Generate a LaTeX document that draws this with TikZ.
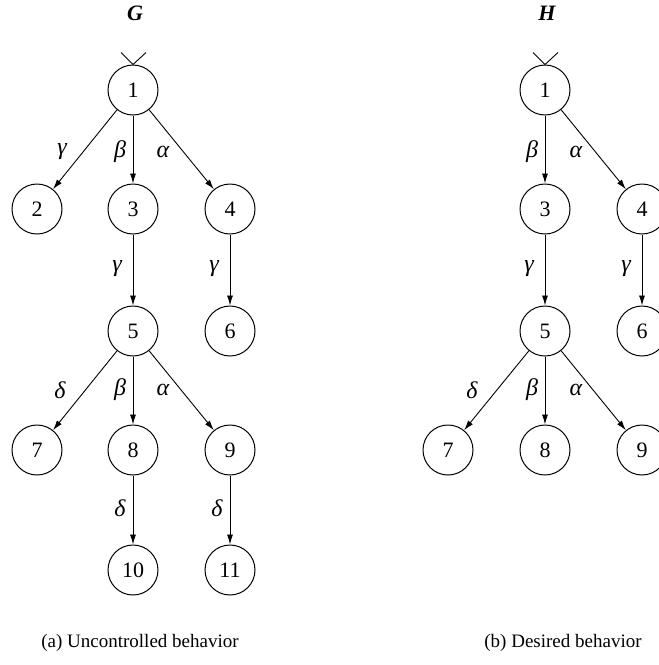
\documentclass[tikz,border=0pt]{standalone}
\usepackage{fontspec}
\setmainfont{Liberation Serif}
\usetikzlibrary{arrows.meta,calc}
\begin{document}
\begin{tikzpicture}[x=1pt,y=-1pt,
  state/.style={circle,draw,line width=1pt,minimum size=50pt,inner sep=0pt,font=\fontsize{22}{24}\selectfont},
  edge/.style={line width=0.9pt,-{Latex[length=10pt,width=6pt]}},
  lab/.style={font=\fontsize{24}{26}\selectfont\itshape,inner sep=0pt},
  ttl/.style={font=\fontsize{22}{24}\selectfont\bfseries\itshape},
  captiontext/.style={font=\fontsize{19}{22}\selectfont},
  entry/.style={line width=0.9pt}]
\useasboundingbox (0,0) rectangle (659,665);

% ---- G: uncontrolled behaviour ----
\node[ttl] (tG) at (135,13) {G};
\node[state] (g1) at (133,90) {1};
\node[state] (g2) at (37,209) {2};
\node[state] (g3) at (133,209) {3};
\node[state] (g4) at (230,209) {4};
\node[state] (g5) at (133,331) {5};
\node[state] (g6) at (230,331) {6};
\node[state] (g7) at (37,450) {7};
\node[state] (g8) at (133,450) {8};
\node[state] (g9) at (230,450) {9};
\node[state] (g10) at (133,570) {10};
\node[state] (g11) at (230,570) {11};

\coordinate (gin) at (g1.north);
\draw[entry] ($(gin)+(-12,-12)$) -- (gin) -- ($(gin)+(13,-12)$);

\draw[edge] (g1) -- (g2) node[lab,at={(62,152)}] {γ};
\draw[edge] (g1) -- (g3) node[lab,at={(120,152)}] {β};
\draw[edge] (g1) -- (g4) node[lab,at={(163,152)}] {α};
\draw[edge] (g3) -- (g5) node[lab,at={(117,269)}] {γ};
\draw[edge] (g4) -- (g6) node[lab,at={(214,269)}] {γ};
\draw[edge] (g5) -- (g7) node[lab,at={(60,390)}] {δ};
\draw[edge] (g5) -- (g8) node[lab,at={(120,390)}] {β};
\draw[edge] (g5) -- (g9) node[lab,at={(163,390)}] {α};
\draw[edge] (g8) -- (g10) node[lab,at={(120,508)}] {δ};
\draw[edge] (g9) -- (g11) node[lab,at={(217,508)}] {δ};

\node[captiontext] (cG) at (140,643) {(a) Uncontrolled behavior};

% ---- H: desired behaviour ----
\node[ttl] (tH) at (547,13) {H};
\node[state] (h1) at (545,90) {1};
\node[state] (h3) at (545,209) {3};
\node[state] (h4) at (642,209) {4};
\node[state] (h5) at (545,331) {5};
\node[state] (h6) at (642,331) {6};
\node[state] (h7) at (448,450) {7};
\node[state] (h8) at (545,450) {8};
\node[state] (h9) at (642,450) {9};

\coordinate (hin) at (h1.north);
\draw[entry] ($(hin)+(-12,-12)$) -- (hin) -- ($(hin)+(13,-12)$);

\draw[edge] (h1) -- (h3) node[lab,at={(532,152)}] {β};
\draw[edge] (h1) -- (h4) node[lab,at={(576,152)}] {α};
\draw[edge] (h3) -- (h5) node[lab,at={(529,269)}] {γ};
\draw[edge] (h4) -- (h6) node[lab,at={(626,269)}] {γ};
\draw[edge] (h5) -- (h7) node[lab,at={(472,390)}] {δ};
\draw[edge] (h5) -- (h8) node[lab,at={(532,390)}] {β};
\draw[edge] (h5) -- (h9) node[lab,at={(576,390)}] {α};

\node[captiontext] (cH) at (563,643) {(b) Desired behavior};
\end{tikzpicture}
\end{document}
